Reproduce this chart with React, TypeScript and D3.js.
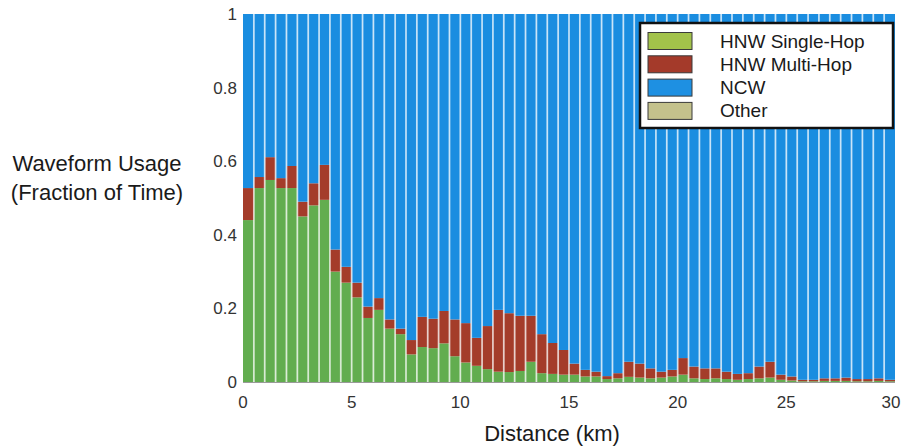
import React from "react";
import * as d3 from "d3";

// Fraction of time per 0.5 km distance bin (0 – 30 km)
const singleHop = [
  0.44, 0.527, 0.549, 0.527, 0.527, 0.45, 0.48, 0.495, 0.3, 0.27,
  0.23, 0.174, 0.196, 0.145, 0.13, 0.075, 0.095, 0.092, 0.105, 0.07,
  0.053, 0.044, 0.035, 0.028, 0.027, 0.03, 0.055, 0.024, 0.022, 0.02,
  0.02, 0.015, 0.015, 0.008, 0.01, 0.014, 0.012, 0.01, 0.012, 0.015,
  0.02, 0.01, 0.008, 0.01, 0.008, 0.006, 0.008, 0.01, 0.012, 0.006,
  0.004, 0.002, 0.002, 0.003, 0.003, 0.003, 0.002, 0.002, 0.003, 0.002,
];
const multiHop = [
  0.087, 0.03, 0.062, 0.027, 0.06, 0.04, 0.06, 0.095, 0.06, 0.043,
  0.04, 0.031, 0.032, 0.025, 0.015, 0.039, 0.082, 0.08, 0.088, 0.1,
  0.107, 0.076, 0.117, 0.168, 0.16, 0.15, 0.125, 0.106, 0.084, 0.067,
  0.03, 0.018, 0.013, 0.008, 0.014, 0.041, 0.038, 0.027, 0.016, 0.018,
  0.045, 0.032, 0.029, 0.027, 0.02, 0.016, 0.016, 0.032, 0.043, 0.014,
  0.011, 0.004, 0.004, 0.007, 0.007, 0.009, 0.006, 0.006, 0.007, 0.004,
];
const other = [
  0, 0, 0, 0, 0, 0, 0, 0, 0, 0, 0, 0, 0, 0, 0, 0, 0, 0, 0, 0,
  0, 0, 0, 0, 0, 0, 0, 0, 0, 0, 0, 0, 0, 0, 0, 0, 0, 0, 0, 0,
  0, 0, 0, 0, 0, 0, 0, 0, 0, 0, 0, 0, 0, 0, 0, 0, 0, 0, 0, 0,
];
const binWidth = 0.5;
const binStarts = d3.range(singleHop.length).map((i) => i * binWidth);

const seriesKeys = ["single", "multi", "ncw", "other"];
const seriesNames = ["HNW Single-Hop", "HNW Multi-Hop", "NCW", "Other"];
const barColors = ["#62ad4f", "#a43c2a", "#1a8de0", "#c3c08a"];
const legendColors = ["#a2c24a", "#a43a2a", "#1e90e2", "#c4c28c"];

const xTicks = [0, 5, 10, 15, 20, 25, 30];
const yTicks = [0, 0.2, 0.4, 0.6, 0.8, 1];

const W = 902;
const H = 446;
const font = "'Liberation Sans', Arial, sans-serif";

export default function App() {
  const x = d3.scaleLinear().domain([0, 30]).range([243, 895]);
  const y = d3.scaleLinear().domain([0, 1]).range([382, 14]);

  const rows = binStarts.map((d, i) => ({
    d,
    single: singleHop[i],
    multi: multiHop[i],
    other: other[i],
    ncw: 1 - singleHop[i] - multiHop[i] - other[i],
  }));
  const stacked = d3.stack<any>().keys(seriesKeys)(rows);

  const legendX = 640;
  const legendTop = 23;
  const legendRight = 893;
  const rowPitch = 23.3;

  return (
    <svg
      width={W}
      height={H}
      style={{ position: "absolute", left: 0, top: 0, background: "#fff", display: "block" }}
    >
      {/* stacked bars */}
      {stacked.map((layer, li) => (
        <g key={layer.key} fill={barColors[li]}>
          {layer.map((seg, i) => {
            const d = rows[i].d;
            const top = y(seg[1]);
            const bottom = y(seg[0]);
            if (bottom - top <= 0) return null;
            return (
              <rect
                key={i}
                x={x(d)}
                y={top}
                width={x(d + binWidth) - x(d)}
                height={bottom - top}
              />
            );
          })}
        </g>
      ))}
      {/* light separators between bins */}
      <g stroke="#ffffff" strokeOpacity={0.7} strokeWidth={1.8}>
        {binStarts.slice(1).map((d) => (
          <line key={d} x1={x(d)} x2={x(d)} y1={y(1)} y2={y(0)} />
        ))}
      </g>
      <line x1={x(0)} x2={x(30)} y1={y(0) + 0.5} y2={y(0) + 0.5} stroke="#9a9a9a" strokeWidth={1} />

      {/* y ticks */}
      <g fontFamily={font} fontSize={17} fill="#333" textAnchor="end">
        {yTicks.map((t) => (
          <text key={t} x={237} y={y(t) + 6}>
            {d3.format("~g")(t)}
          </text>
        ))}
      </g>
      {/* x ticks */}
      <g fontFamily={font} fontSize={17} fill="#333" textAnchor="middle">
        {xTicks.map((t) => (
          <text key={t} x={Math.min(x(t), 891)} y={408}>
            {t}
          </text>
        ))}
      </g>

      {/* axis titles */}
      <g fontFamily={font} fontSize={22} fill="#1a1a1a" textAnchor="middle">
        <text x={97} y={171}>Waveform Usage</text>
        <text x={97} y={200}>(Fraction of Time)</text>
        <text x={552} y={441}>Distance (km)</text>
      </g>

      {/* legend */}
      <g>
        <rect
          x={legendX}
          y={legendTop}
          width={legendRight - legendX}
          height={105}
          fill="#fff"
          stroke="#111"
          strokeWidth={2.5}
        />
        {seriesNames.map((name, i) => {
          const cy = legendTop + 18 + i * rowPitch;
          return (
            <g key={name}>
              <rect
                x={legendX + 8}
                y={cy - 8.5}
                width={44}
                height={17}
                fill={legendColors[i]}
                stroke="#3a3a3a"
                strokeWidth={1}
              />
              <text
                x={720}
                y={cy + 6.5}
                fontFamily={font}
                fontSize={19}
                fill="#1a1a1a"
              >
                {name}
              </text>
            </g>
          );
        })}
      </g>
    </svg>
  );
}
